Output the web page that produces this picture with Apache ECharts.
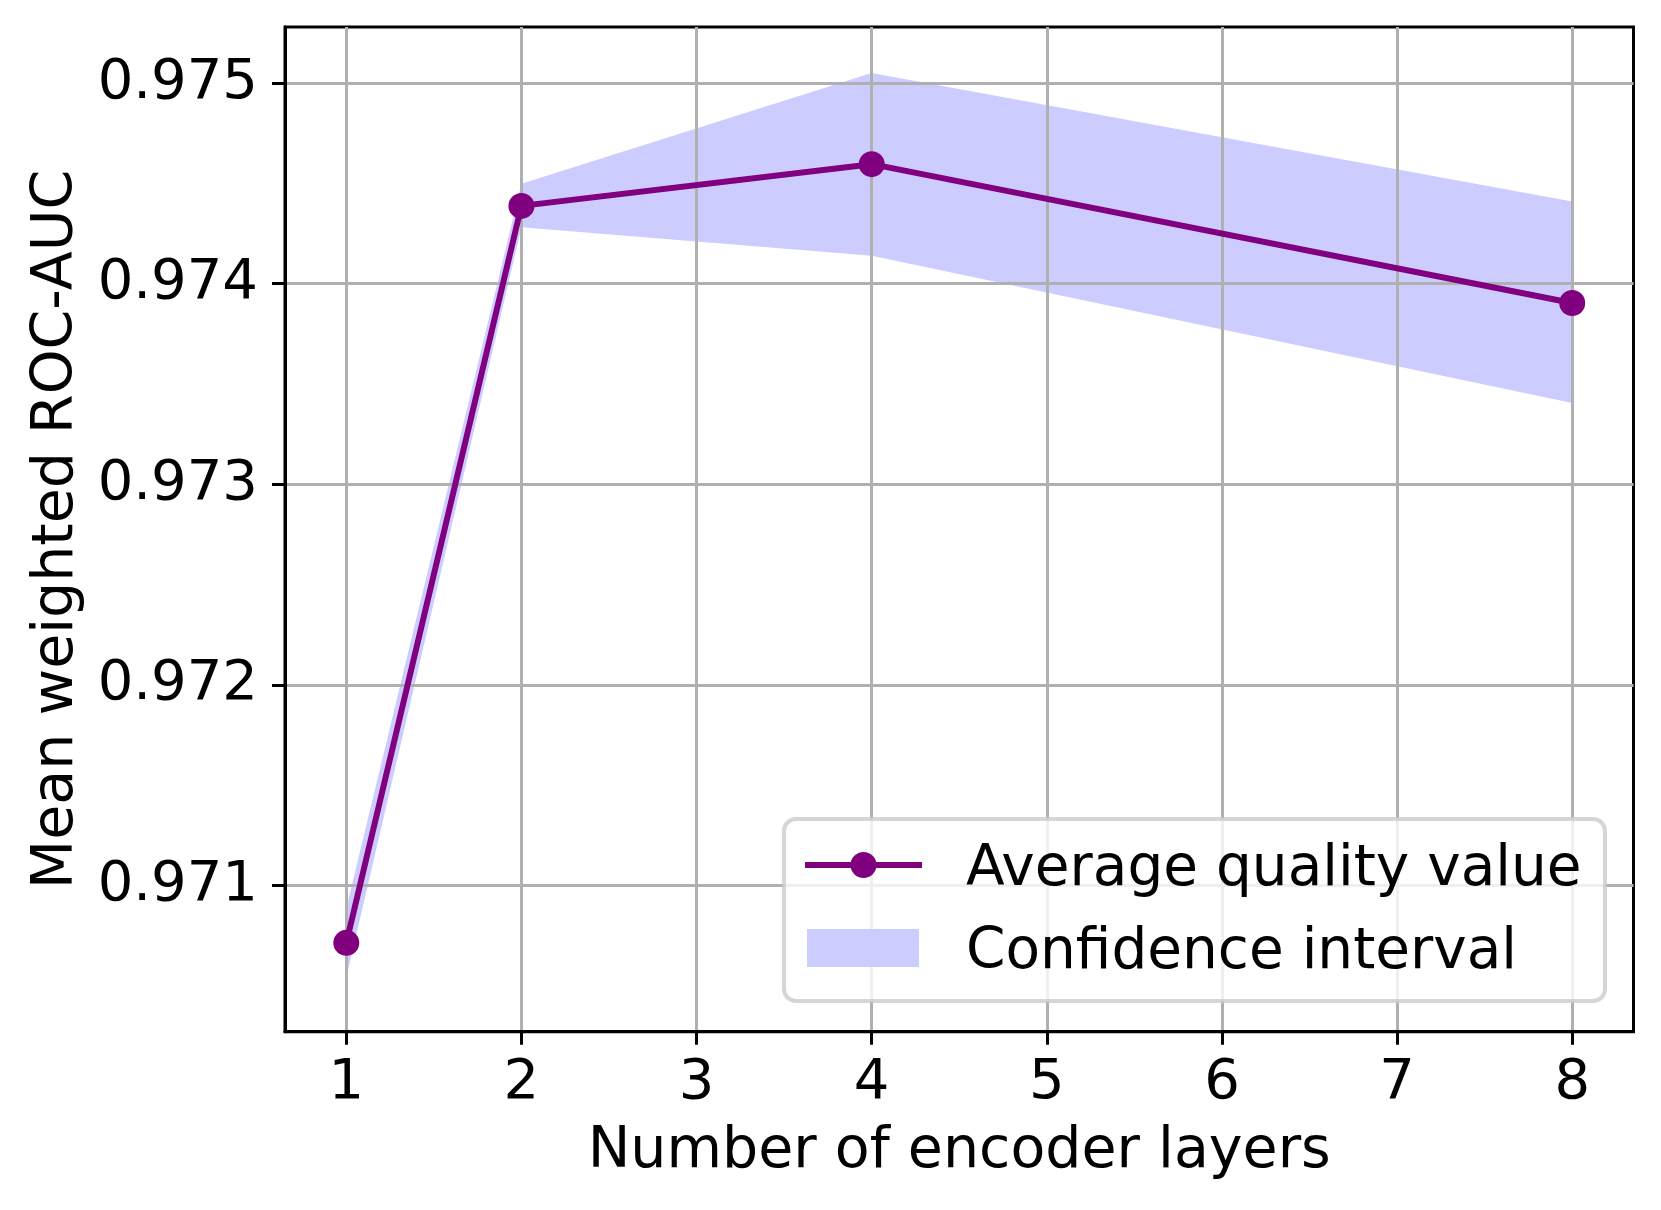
<!DOCTYPE html>
<html>
<head>
<meta charset="utf-8">
<script src="https://cdn.jsdelivr.net/npm/echarts@6/dist/echarts.min.js"></script>
<style>
html,body{margin:0;padding:0;background:#fff;}
#chart{width:1661px;height:1210px;}
</style>
</head>
<body>
<div id="chart"></div>
<script>
// Data
const layers = [1, 2, 4, 8];
const meanAUC = [0.970713, 0.974388, 0.974596, 0.973904];
const ciLower = [0.970540, 0.974282, 0.974139, 0.973405];
const ciUpper = [0.970885, 0.974498, 0.975050, 0.974410];
const xTicks = [1, 2, 3, 4, 5, 6, 7, 8];
const yTicks = [0.971, 0.972, 0.973, 0.974, 0.975];
const xLabel = 'Number of encoder layers';
const yLabel = 'Mean weighted ROC-AUC';
const legendNames = ['Average quality value', 'Confidence interval'];

const FONT = 'DejaVu Sans';
const FS = 56;
const FS_NAME = 57;
const FS_LEG = 56.5;
const chart = echarts.init(document.getElementById('chart'), null, {renderer: 'canvas'});

const meanData = layers.map((x, i) => [x, meanAUC[i]]);
const bandData = layers.map((x, i) => [x, ciLower[i], ciUpper[i]]);

const option = {
  animation: false,
  backgroundColor: '#ffffff',
  grid: {
    left: 285, top: 27, width: 1348.5, height: 1004.7,
    show: true, borderColor: '#000', borderWidth: 3, backgroundColor: 'transparent'
  },
  xAxis: {
    type: 'value', min: 0.65, max: 8.35, z: 1,
    name: xLabel, nameLocation: 'middle', nameGap: 92,
    nameTextStyle: {fontFamily: FONT, fontSize: FS_NAME, color: '#000'},
    axisLine: {show: true, lineStyle: {color: '#000', width: 3}},
    axisTick: {show: true, inside: false, length: 13, lineStyle: {color: '#000', width: 3}, customValues: xTicks},
    axisLabel: {customValues: xTicks, margin: 24, fontFamily: FONT, fontSize: FS, color: '#000',
      formatter: v => String(Math.round(v))},
    splitLine: {show: true, lineStyle: {color: '#b0b0b0', width: 3}}
  },
  yAxis: {
    type: 'value', min: 0.97027, max: 0.97528, z: 1,
    name: yLabel, nameLocation: 'middle', nameGap: 199, nameRotate: 90,
    nameTextStyle: {fontFamily: FONT, fontSize: FS_NAME, color: '#000'},
    axisLine: {show: true, lineStyle: {color: '#000', width: 3}},
    axisTick: {show: true, inside: false, length: 13, lineStyle: {color: '#000', width: 3}, customValues: yTicks},
    axisLabel: {customValues: yTicks, margin: 27, fontFamily: FONT, fontSize: FS, color: '#000',
      formatter: v => v.toFixed(3)},
    splitLine: {show: true, lineStyle: {color: '#b0b0b0', width: 3}}
  },
  series: [
    {
      name: 'Confidence interval', type: 'custom', z: 0, silent: true,
      data: [0],
      renderItem: function (params, api) {
        const top = bandData.map(d => api.coord([d[0], d[2]]));
        const bottom = bandData.slice().reverse().map(d => api.coord([d[0], d[1]]));
        return {
          type: 'polygon',
          shape: {points: top.concat(bottom)},
          style: {fill: '#ccccff', stroke: null}
        };
      },
      clip: true
    },
    {
      name: 'Average quality value', type: 'line', data: meanData, z: 5,
      symbol: 'circle', symbolSize: 26,
      itemStyle: {color: '#800080'},
      lineStyle: {color: '#800080', width: 6}
    }
  ],
  graphic: [
    {type: 'rect', z: 100, shape: {x: 784, y: 819, width: 821, height: 182, r: 12},
      style: {fill: 'rgba(255,255,255,0.8)', stroke: 'rgba(204,204,204,0.8)', lineWidth: 4}},
    {type: 'line', z: 101, shape: {x1: 805, y1: 865, x2: 922, y2: 865},
      style: {stroke: '#800080', lineWidth: 6}},
    {type: 'circle', z: 102, shape: {cx: 863.5, cy: 865, r: 13}, style: {fill: '#800080'}},
    {type: 'rect', z: 101, shape: {x: 807, y: 929, width: 112, height: 38}, style: {fill: '#ccccff'}},
    {type: 'text', z: 101, x: 966, y: 870,
      style: {text: legendNames[0], fontFamily: FONT, fontSize: FS_LEG, fill: '#000', verticalAlign: 'middle', align: 'left'}},
    {type: 'text', z: 101, x: 966, y: 953,
      style: {text: legendNames[1], fontFamily: FONT, fontSize: FS_LEG, fill: '#000', verticalAlign: 'middle', align: 'left'}}
  ]
};
chart.setOption(option);
</script>
</body>
</html>
